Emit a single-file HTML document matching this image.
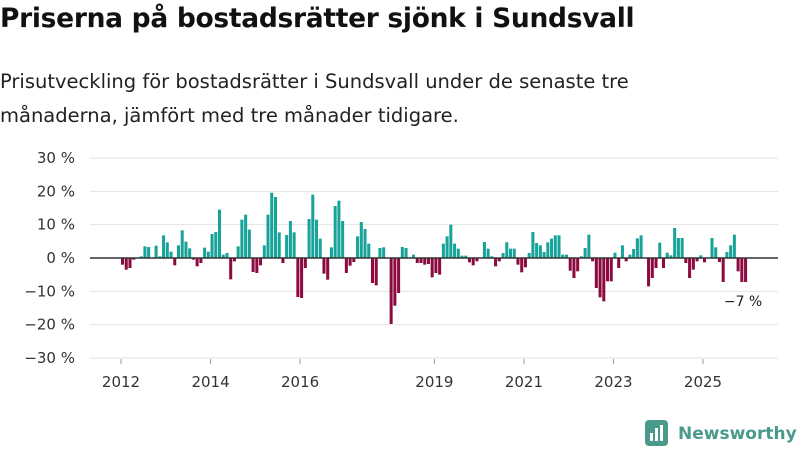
<!DOCTYPE html>
<html><head><meta charset="utf-8"><style>
body{margin:0;width:800px;height:450px;background:#fff;font-family:"Liberation Sans","DejaVu Sans",sans-serif;overflow:hidden;position:relative}
#title{position:absolute;left:0;top:3px;font-size:26.5px;font-weight:bold;color:#111;font-family:"DejaVu Sans",sans-serif;letter-spacing:-0.3px}
#sub{position:absolute;left:0;top:65px;font-size:19.5px;line-height:34px;color:#222;font-family:"DejaVu Sans",sans-serif;width:660px}
svg{position:absolute;left:0;top:0}
</style></head><body>
<div id="title">Priserna på bostadsrätter sjönk i Sundsvall</div>
<div id="sub">Prisutveckling för bostadsrätter i Sundsvall under de senaste tre månaderna, jämfört med tre månader tidigare.</div>
<svg id="chart" width="800" height="450"></svg>
<script>
const startYear = 2012;
const values = [-2,-3.5,-3,-0.5,0,0.5,3.5,3.3,0,3.7,0.5,6.8,4.7,1.9,-2.2,3.8,8.3,4.9,2.9,-0.5,-2.5,-1.5,3.1,1.9,7.2,7.8,14.5,1,1.5,-6.4,-1,3.5,11.5,13,8.5,-4.2,-4.5,-2.2,3.8,
13,19.6,18.3,7.7,-1.5,6.9,11.1,7.7,-11.7,-12,-3,11.7,19,11.5,5.8,-4.7,-6.5,3.2,15.6,17.2,11.1,-4.5,-2.3,-1.2,6.5,10.8,8.7,4.3,-7.5,-8.2,3,3.2,0,-19.8,-14.3,-10.5,3.3,3,0,1,-1.5,-1.5,
-2,-1.8,-5.8,-4.5,-5,4.3,6.5,10,4.3,2.8,0.7,0.7,-1.3,-2.2,-1,0,4.8,2.8,0.5,-2.5,-1,1.5,4.7,2.8,2.8,-2,-4.3,-2.8,1.5,7.8,4.5,3.8,1.8,4.7,5.8,6.8,6.8,1,1,-3.8,-6,
-4,0.5,3,7,-1,-9,-11.8,-13,-7,-7,1.6,-3,3.8,-1,1,2.7,5.9,6.8,0,-8.5,-6,-3,4.6,-3,1.6,0.8,9,6,6,-1.5,-6,-3.5,-1,0.8,-1.3,0,6,3.2,-1.2,-7.2,1.8,3.8,7,-4,-7.2,-7.2];
const yTicks = [30,20,10,0,-10,-20,-30];
const xTicks = [2012,2014,2016,2019,2021,2023,2025];
const lastLabel = "−7 %";
const svg = document.getElementById('chart');
const NS = 'http://www.w3.org/2000/svg';
function y(v){return 258 - v*10/3;}
function x(yearFrac){return 121 + (yearFrac-2012)*44.77;}
function mk(t,a){const e=document.createElementNS(NS,t);for(const k in a)e.setAttribute(k,a[k]);svg.appendChild(e);return e;}
yTicks.forEach(t=>{
  if(t!==0){const l=mk('line',{x1:90,x2:778,y1:y(t),y2:y(t),stroke:'#e2e2e2','stroke-width':1});
  
  }
  const tx=mk('text',{x:75,y:y(t)+5,'text-anchor':'end','font-size':15,fill:'#333','font-family':'DejaVu Sans,sans-serif'});
  tx.textContent=(t<0?'−'+(-t):t)+' %';
  
  
});
xTicks.forEach(t=>{
  const l=mk('line',{x1:x(t),x2:x(t),y1:359,y2:364,stroke:'#999'});
  
  
  const tx=mk('text',{x:x(t),y:387,'text-anchor':'middle','font-size':15,fill:'#333','font-family':'DejaVu Sans,sans-serif'});
  tx.textContent=t;
  
  
});
const bw=3.73;
values.forEach((v,i)=>{
  const x0=x(startYear+i/12);
  const r=mk('rect',{x:x0,y:Math.min(y(v),y(0)),width:bw-0.7,height:Math.abs(y(v)-y(0)),fill:v>=0?'#17a398':'#8c0a3f'});
  
  
});
const z=mk('line',{x1:90,x2:778,y1:y(0),y2:y(0),stroke:'#333','stroke-width':1.5});


const li=values.length-1;
const lb=mk('text',{x:x(startYear+li/12)-1,y:y(values[li])+24,'text-anchor':'middle','font-size':14,fill:'#222','font-family':'DejaVu Sans,sans-serif'});
lb.textContent=lastLabel;


</script>
<svg width="160" height="40" style="left:640px;top:415px">
<rect x="5" y="5" width="23" height="26" rx="4" fill="#4a9a8c"/>
<rect x="10" y="18" width="3" height="8" fill="#fff"/><rect x="15" y="13" width="3" height="13" fill="#fff"/><rect x="20" y="10" width="3" height="16" fill="#fff"/>
<text x="38" y="24" font-size="17" font-weight="bold" fill="#4a9a8c" font-family="DejaVu Sans,sans-serif">Newsworthy</text>
</svg>
</body></html>
